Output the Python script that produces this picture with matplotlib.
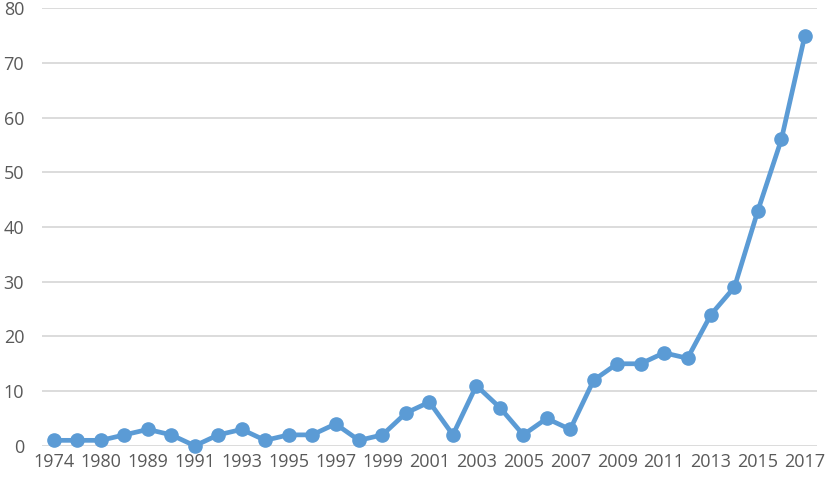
import matplotlib
matplotlib.use("Agg")
import matplotlib.pyplot as plt

years = ["1974", "1977", "1980", "1985", "1989", "1990", "1991", "1992", "1993",
         "1994", "1995", "1996", "1997", "1998", "1999", "2000", "2001", "2002",
         "2003", "2004", "2005", "2006", "2007", "2008", "2009", "2010", "2011",
         "2012", "2013", "2014", "2015", "2016", "2017"]
counts = [1, 1, 1, 2, 3, 2, 0, 2, 3, 1, 2, 2, 4, 1, 2, 6, 8, 2,
          11, 7, 2, 5, 3, 12, 15, 15, 17, 16, 24, 29, 43, 56, 75]
yticks = [0, 10, 20, 30, 40, 50, 60, 70, 80]

plt.rcParams['font.family'] = ['Open Sans', 'DejaVu Sans']

fig = plt.figure(figsize=(8.29, 4.83), dpi=100)
ax = fig.add_axes([0.051, 0.077, 0.934, 0.906])

x = list(range(len(years)))
ax.plot(x, counts, color='#5B9BD5', linewidth=3.4, marker='o', markersize=9.5,
        solid_joinstyle='round', zorder=3, clip_on=False)

ax.set_xlim(-0.5, len(years) - 0.5)
ax.set_ylim(0, 80)
ax.set_yticks(yticks)
ax.set_yticklabels([str(v) for v in yticks])
ax.set_xticks(x[::2])
ax.set_xticklabels(years[::2])

ax.grid(axis='y', color='#D9D9D9', linewidth=1.3, zorder=0)
for s in ax.spines.values():
    s.set_visible(False)
ax.tick_params(length=0, colors='#595959', labelsize=13)
ax.tick_params(axis='y', pad=13)
ax.tick_params(axis='x', pad=5)

fig.savefig('out.png', dpi=100)
